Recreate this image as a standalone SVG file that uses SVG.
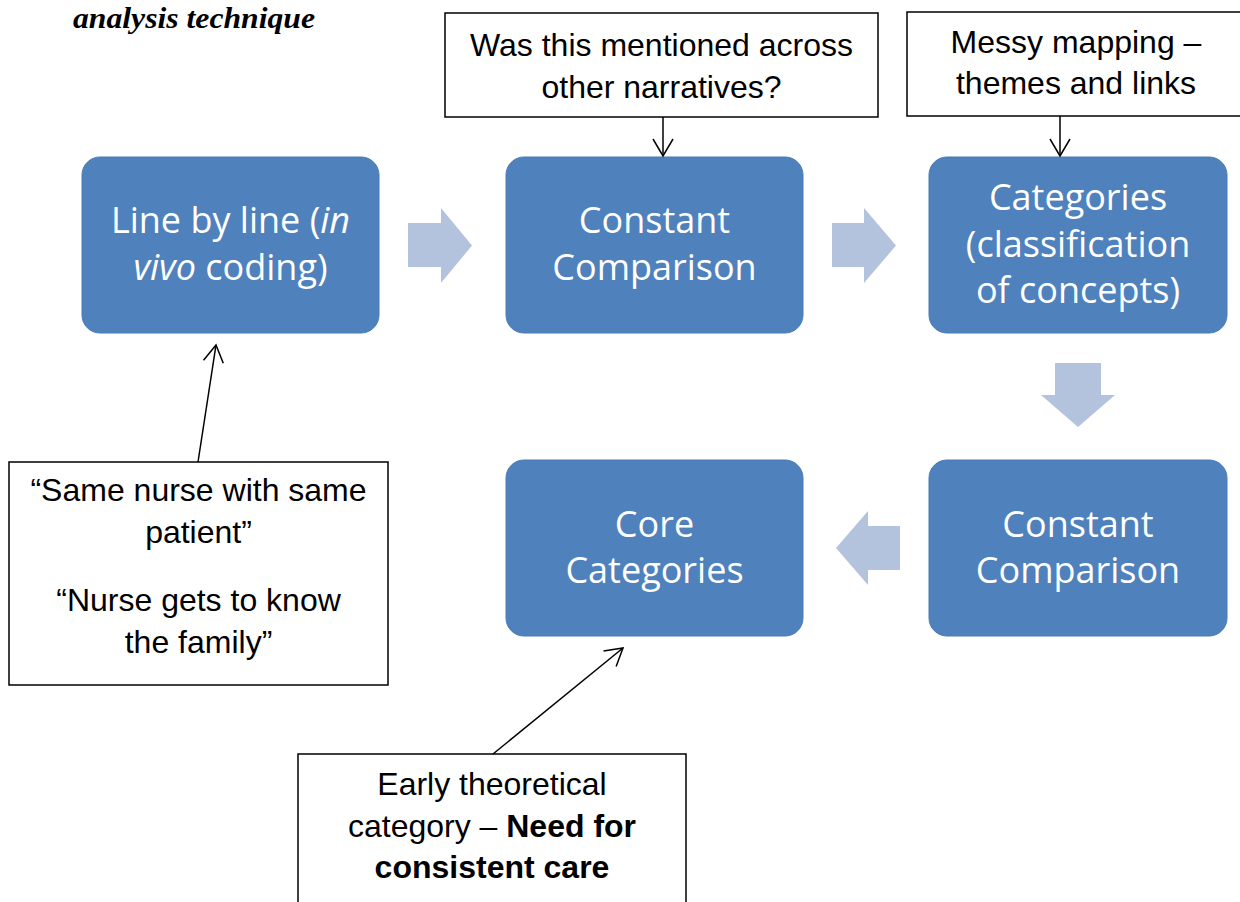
<svg xmlns="http://www.w3.org/2000/svg" width="1240" height="902" viewBox="0 0 1240 902">
<style>
.bx{fill:#4F81BD;stroke:#4A7BB6;stroke-width:1}
.bt{font-family:"Open Sans","Noto Sans",sans-serif;font-size:36px;fill:#FFFFFF;text-anchor:middle}
.ct{font-family:"Liberation Sans",Arial,sans-serif;font-size:32px;fill:#000000;text-anchor:middle}
.cb{fill:#FFFFFF;stroke:#000000;stroke-width:1.5}
.bar{fill:#B3C2DD}
.cn{stroke:#000000;stroke-width:1.5;fill:none;marker-end:url(#ah)}
</style>
<defs>
<marker id="ah" markerUnits="userSpaceOnUse" viewBox="-19 -12 21 24" refX="0" refY="0" markerWidth="21" markerHeight="24" orient="auto">
<path d="M-17,-10 L0,0 L-17,10" fill="none" stroke="#000000" stroke-width="1.5"/>
</marker>
</defs>
<rect width="1240" height="902" fill="#FFFFFF"/>
<text x="73" y="28" font-family="'Liberation Serif','Times New Roman',serif" font-size="30" font-weight="bold" font-style="italic" textLength="242" lengthAdjust="spacingAndGlyphs">analysis technique</text>

<g id="n-line">
<rect class="bx" x="82" y="157" width="297" height="176" rx="18"/>
<text class="bt" x="230.5" y="233" font-size="37">Line by line (<tspan font-style="italic">in</tspan></text>
<text class="bt" x="230.5" y="280" font-size="37"><tspan font-style="italic">vivo</tspan> coding)</text>
</g>
<g id="n-cc1">
<rect class="bx" x="506" y="157" width="297" height="176" rx="18"/>
<text class="bt" x="654.5" y="233">Constant</text>
<text class="bt" x="654.5" y="280">Comparison</text>
</g>
<g id="n-cat">
<rect class="bx" x="929" y="157" width="298" height="176" rx="18"/>
<text class="bt" x="1078" y="210">Categories</text>
<text class="bt" x="1078" y="257">(classification</text>
<text class="bt" x="1078" y="303">of concepts)</text>
</g>
<g id="n-core">
<rect class="bx" x="506" y="460" width="297" height="176" rx="18"/>
<text class="bt" x="654.5" y="537">Core</text>
<text class="bt" x="654.5" y="583">Categories</text>
</g>
<g id="n-cc2">
<rect class="bx" x="929" y="460" width="298" height="176" rx="18"/>
<text class="bt" x="1078" y="537">Constant</text>
<text class="bt" x="1078" y="583">Comparison</text>
</g>

<g id="n-q1">
<rect class="cb" x="445" y="13" width="433" height="104"/>
<text class="ct" x="661.5" y="56">Was this mentioned across</text>
<text class="ct" x="661.5" y="98">other narratives?</text>
</g>
<g id="n-q2">
<rect class="cb" x="907" y="12" width="340" height="104"/>
<text class="ct" x="1076" y="53">Messy mapping –</text>
<text class="ct" x="1076" y="94">themes and links</text>
</g>
<g id="n-quotes">
<rect class="cb" x="9" y="462" width="379" height="223"/>
<text class="ct" x="198.5" y="501">“Same nurse with same</text>
<text class="ct" x="198.5" y="543">patient”</text>
<text class="ct" x="198.5" y="611">“Nurse gets to know</text>
<text class="ct" x="198.5" y="653">the family”</text>
</g>
<g id="n-early">
<rect class="cb" x="298" y="754" width="388" height="160"/>
<text class="ct" x="492" y="795">Early theoretical</text>
<text class="ct" x="492" y="837">category – <tspan font-weight="bold">Need for</tspan></text>
<text class="ct" x="492" y="878" font-weight="bold">consistent care</text>
</g>

<g id="connectors">
<polygon class="bar" points="408,223 441,223 441,208 472,245.5 441,283 441,267 408,267"/>
<polygon class="bar" points="832,223 864,223 864,208 896,245.5 864,283 864,267 832,267"/>
<polygon class="bar" points="1055,363 1101,363 1101,395 1115,395 1078,427 1041,395 1055,395"/>
<polygon class="bar" points="900,526 900,570 868,570 868,585 836,548 868,511 868,526"/>
<line class="cn" x1="663" y1="117" x2="663" y2="156"/>
<line class="cn" x1="1060" y1="116" x2="1060" y2="156"/>
<line class="cn" x1="198" y1="462" x2="216" y2="345"/>
<line class="cn" x1="493" y1="754" x2="623" y2="648"/>
</g>
</svg>
